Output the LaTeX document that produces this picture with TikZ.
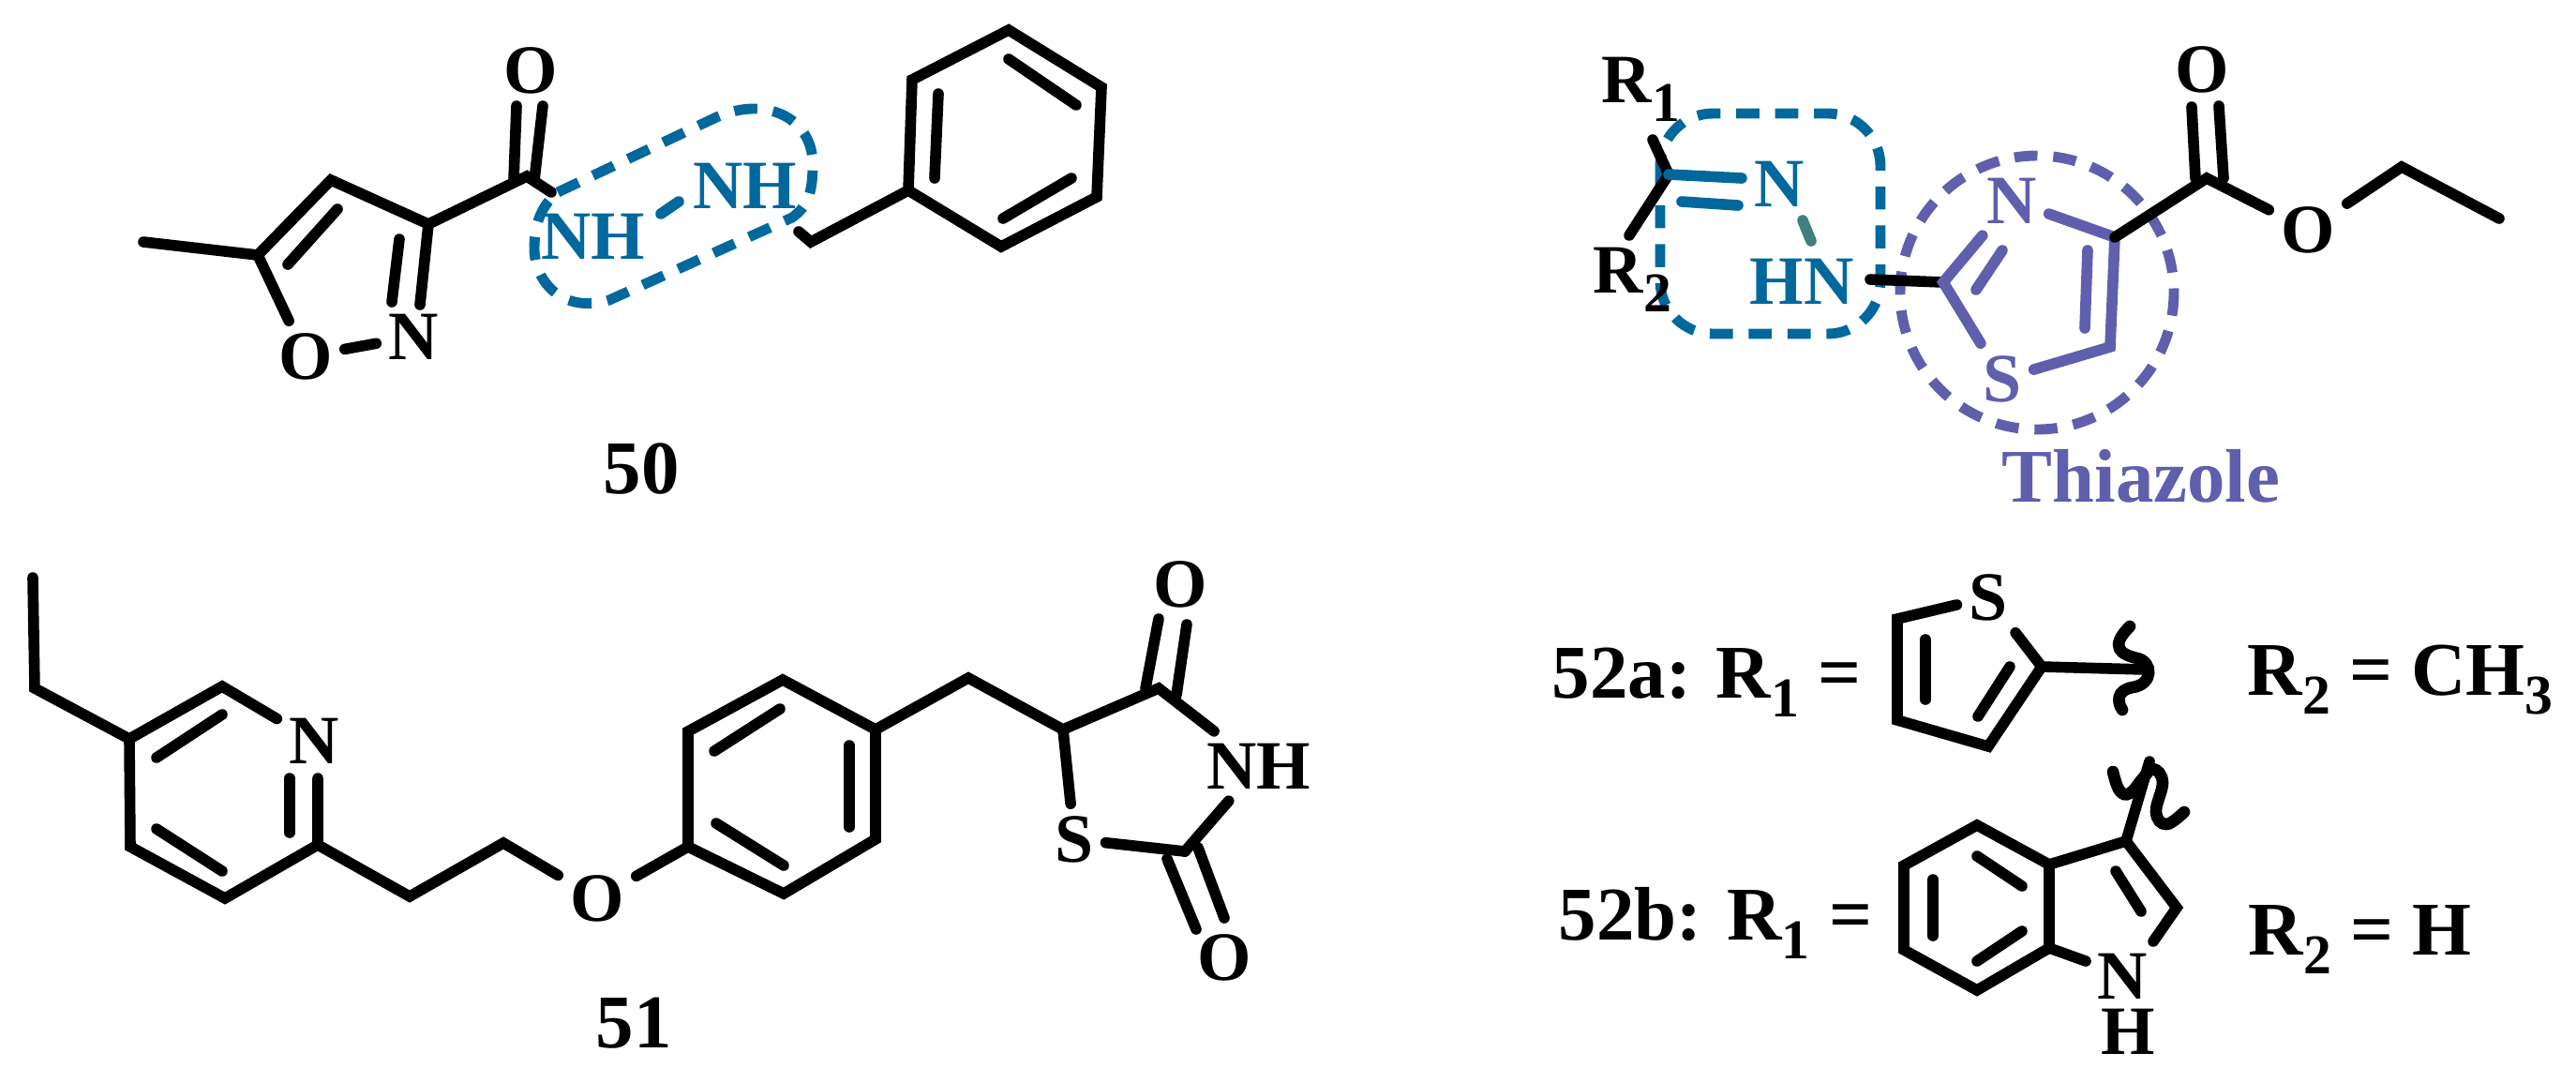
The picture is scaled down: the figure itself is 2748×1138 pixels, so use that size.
\documentclass[tikz,border=0pt]{standalone}
\usepackage{fontspec}
\setmainfont{Liberation Serif}
\definecolor{hzblue}{HTML}{00689C}
\definecolor{thzpurple}{HTML}{5F5FAD}
\definecolor{nnteal}{HTML}{3F7F80}
\newcommand{\lowidx}[1]{\raisebox{-5.7pt}{\fontsize{17}{17}\selectfont #1}}
\tikzset{
    bond/.style={line width=3.3pt,line cap=round,line join=miter},
    atom/.style={font=\fontsize{21}{21}\selectfont\bfseries,inner sep=3.5pt},
    rlabel/.style={font=\fontsize{21}{21}\selectfont\bfseries,inner sep=0pt,anchor=base west},
    numlabel/.style={font=\fontsize{23}{23}\selectfont\bfseries,inner sep=0pt},
    boldlabel/.style={font=\fontsize{23}{23}\selectfont\bfseries,inner sep=0pt,anchor=base west},
    squiggle/.style={line width=3.6pt,line cap=round},
    hzdash/.style={hzblue,line width=3.1pt,dash pattern=on 7pt off 4.8pt},
    thzdash/.style={thzpurple,line width=3.1pt,dash pattern=on 7pt off 4.8pt}
}
\begin{document}
\begin{tikzpicture}[x=0.01cm,y=-0.01cm]
    \useasboundingbox (0,0) rectangle (2748,1138);

    %%% compound 50
    % dashed outline first
    \draw[hzdash] (595,205) -- (760,127) .. controls (815,100) and (867,125) .. (867,175)
        .. controls (867,205) and (862,220) .. (845,232) -- (650,320)
        .. controls (600,335) and (570,300) .. (570,265) .. controls (570,235) and (580,217) .. (595,205) -- cycle;
    % labels
    \node[atom] (o50) at (566,75) {O};
    \node[atom] (oring) at (326,380) {O};
    \node[atom] (nring) at (441,359) {N};
    \node[atom,hzblue] (nh1) at (633,252) {NH};
    \node[atom,hzblue] (nh2) at (795,198) {NH};
    \node[numlabel] (lab50) at (684,500) {50};
    % skeleton
    \path (153,258) coordinate (me) (275,272) coordinate (c5) (353,192) coordinate (c4)
          (457,239) coordinate (c3) (562,188) coordinate (co) (588,205) coordinate (nstub)
          (852,247) coordinate (nhstub) (865,258) coordinate (ch2)
          (969,203) coordinate (ph1) (973,85) coordinate (ph2) (1076,32) coordinate (ph3)
          (1175,93) coordinate (ph4) (1170,210) coordinate (ph5) (1068,263) coordinate (ph6)
          (724,215) coordinate (nna) (705,228) coordinate (nnb);
    \draw[bond] (me) -- (c5) -- (c4) -- (c3) -- (co) -- (nstub);
    \draw[bond] (c5) -- (oring);
    \draw[bond] (oring) -- (nring);
    \draw[bond] (c3) -- (448,325);
    \draw[bond] (426,255) -- (418,322);
    \draw[bond] (360,223) -- (307,282);
    \draw[bond] (548,192) -- (551,113);
    \draw[bond] (570,192) -- (579,113);
    \draw[bond] (nhstub) -- (ch2) -- (ph1);
    \draw[bond] (ph1) -- (ph2) -- (ph3) -- (ph4) -- (ph5) -- (ph6) -- cycle;
    \draw[bond] (1001,100) -- (997,190);
    \draw[bond] (1076,63) -- (1148,112);
    \draw[bond] (1143,190) -- (1070,233);
    \draw[bond,hzblue] (nna) -- (nnb);

    %%% compound 51
    \node[atom] (n51) at (335,790) {N};
    \node[atom] (o51) at (637,958) {O};
    \node[atom] (oa51) at (1259,623) {O};
    \node[atom] (ob51) at (1306,1021) {O};
    \node[atom] (nh51) at (1343,817) {NH};
    \node[atom] (s51) at (1146,895) {S};
    \node[numlabel] (lab51) at (676,1091) {51};
    \path (35,616) coordinate (et1) (37,734) coordinate (et2) (138,788) coordinate (py5)
          (237,732) coordinate (py6) (139,903) coordinate (py4) (240,958) coordinate (py3)
          (339,901) coordinate (py2) (437,956) coordinate (ch1) (537,899) coordinate (ch3)
          (734,903) coordinate (bz1) (734,780) coordinate (bz2) (835,725) coordinate (bz3)
          (934,778) coordinate (bz4) (934,895) coordinate (bz5) (836,953) coordinate (bz6)
          (1033,723) coordinate (ch5) (1134,778) coordinate (td5) (1236,734) coordinate (td4)
          (1264,908) coordinate (td2);
    \draw[bond] (et1) -- (et2) -- (py5) -- (py6) -- (n51);
    \draw[bond] (py5) -- (py4) -- (py3) -- (py2) -- (339,830);
    \draw[bond] (309,888) -- (309,830);
    \draw[bond] (237,762) -- (167,808);
    \draw[bond] (167,884) -- (237,929);
    \draw[bond] (py2) -- (ch1) -- (ch3) -- (o51);
    \draw[bond] (o51) -- (bz1);
    \draw[bond] (bz1) -- (bz2) -- (bz3) -- (bz4) -- (bz5) -- (bz6) -- cycle;
    \draw[bond] (762,801) -- (832,756);
    \draw[bond] (906,795) -- (906,882);
    \draw[bond] (764,878) -- (836,923);
    \draw[bond] (bz4) -- (ch5) -- (td5) -- (td4) -- (nh51);
    \draw[bond] (td5) -- (s51);
    \draw[bond] (s51) -- (td2);
    \draw[bond] (nh51) -- (td2);
    \draw[bond] (1222,734) -- (1236,660);
    \draw[bond] (1255,741) -- (1266,666);
    \draw[bond] (1245,916) -- (1276,991);
    \draw[bond] (1278,904) -- (1306,979);

    %%% compound 52
    % dashed outlines first
    \draw[hzdash,rounded corners=16pt] (1771,121) rectangle (2006,356);
    \draw[thzdash] (2173,312) circle [radius=146];
    % labels
    \node[rlabel] (r1) at (1708,109) {R\lowidx{1}};
    \node[rlabel] (r2) at (1699,312) {R\lowidx{2}};
    \node[atom,hzblue] (n52) at (1898,196) {N};
    \node[atom,hzblue] (hn52) at (1922,300) {HN};
    \node[atom,thzpurple] (nthz) at (2146,214) {N};
    \node[atom,thzpurple] (sthz) at (2136,404) {S};
    \node[atom] (oa52) at (2349,74) {O};
    \node[atom] (ob52) at (2462,245) {O};
    \node[numlabel,thzpurple] (thz) at (2284,508) {Thiazole};
    % skeleton
    \path (1763,149) coordinate (rb1) (1780,186) coordinate (cn) (1738,251) coordinate (rb2)
          (2073,301) coordinate (tz2) (2256,253) coordinate (tz4) (2251,370) coordinate (tz5)
          (2354,190) coordinate (ester) (2562,178) coordinate (et3) (2666,233) coordinate (et4);
    \draw[bond] (rb1) -- (cn) -- (rb2);
    \draw[bond,hzblue] (cn) -- (1858,190);
    \draw[bond,hzblue] (1794,215) -- (1854,219);
    \draw[bond,nnteal] (1923,235) -- (1932,257);
    \draw[bond] (1995,298) -- (tz2);
    \draw[bond,thzpurple] (nthz) -- (tz2) -- (sthz);
    \draw[bond,thzpurple] (sthz) -- (tz5) -- (tz4) -- (nthz);
    \draw[bond,thzpurple] (2108,309) -- (2136,267);
    \draw[bond,thzpurple] (2224,350) -- (2227,267);
    \draw[bond] (tz4) -- (ester) -- (ob52);
    \draw[bond] (ob52) -- (et3) -- (et4);
    \draw[bond] (2342,190) -- (2338,114);
    \draw[bond] (2372,190) -- (2367,113);

    %%% R groups
    \node[boldlabel] (lab52a) at (1655,744) {52a: R\lowidx{1} =};
    \node[boldlabel] (r2a) at (2397,741) {R\lowidx{2} = CH\lowidx{3}};
    \node[boldlabel] (lab52b) at (1662,1002) {52b: R\lowidx{1} =};
    \node[boldlabel] (r2b) at (2398,1018) {R\lowidx{2} = H};
    % thiophene
    \node[atom] (s52) at (2121,637) {S};
    \path (2024,660) coordinate (tp1) (2024,768) coordinate (tp2) (2121,796) coordinate (tp3)
          (2178,711) coordinate (tp4) (2288,714) coordinate (tpend);
    \draw[bond] (s52) -- (tp1) -- (tp2) -- (tp3) -- (tp4) -- (s52);
    \draw[bond] (2054,682) -- (2054,746);
    \draw[bond] (2144,711) -- (2110,764);
    \draw[bond] (tp4) -- (tpend);
    \draw[squiggle] (2272,668) .. controls (2250,690) and (2262,698) .. (2280,702)
        .. controls (2297,706) and (2297,730) .. (2275,733) .. controls (2258,736) and (2258,748) .. (2264,757);
    % indole
    \node[atom,inner sep=0pt] (n53) at (2264,1041) {N};
    \node[atom,inner sep=0pt] (h53) at (2270,1100) {H};
    \path (2109,880) coordinate (in1) (2186,922) coordinate (in2) (2186,1011) coordinate (in3)
          (2109,1056) coordinate (in4) (2031,1013) coordinate (in5) (2031,923) coordinate (in6)
          (2268,897) coordinate (in7) (2322,968) coordinate (in8) (2297,1004) coordinate (nstub2)
          (2225,1025) coordinate (nstub3) (2293,812) coordinate (inend);
    \draw[bond] (in1) -- (in2) -- (in3) -- (in4) -- (in5) -- (in6) -- cycle;
    \draw[bond] (in3) -- (nstub3);
    \draw[bond] (in2) -- (in7) -- (in8) -- (nstub2);
    \draw[bond] (in7) -- (inend);
    \draw[bond] (2109,913) -- (2157,945);
    \draw[bond] (2062,938) -- (2062,998);
    \draw[bond] (2109,1025) -- (2157,993);
    \draw[bond] (2257,929) -- (2284,972);
    \draw[squiggle] plot[smooth,tension=0.7] coordinates {(2254,823) (2261,843) (2272,846) (2286,830) (2297,820) (2307,834) (2300,866) (2311,879) (2330,866)};
\end{tikzpicture}
\end{document}
